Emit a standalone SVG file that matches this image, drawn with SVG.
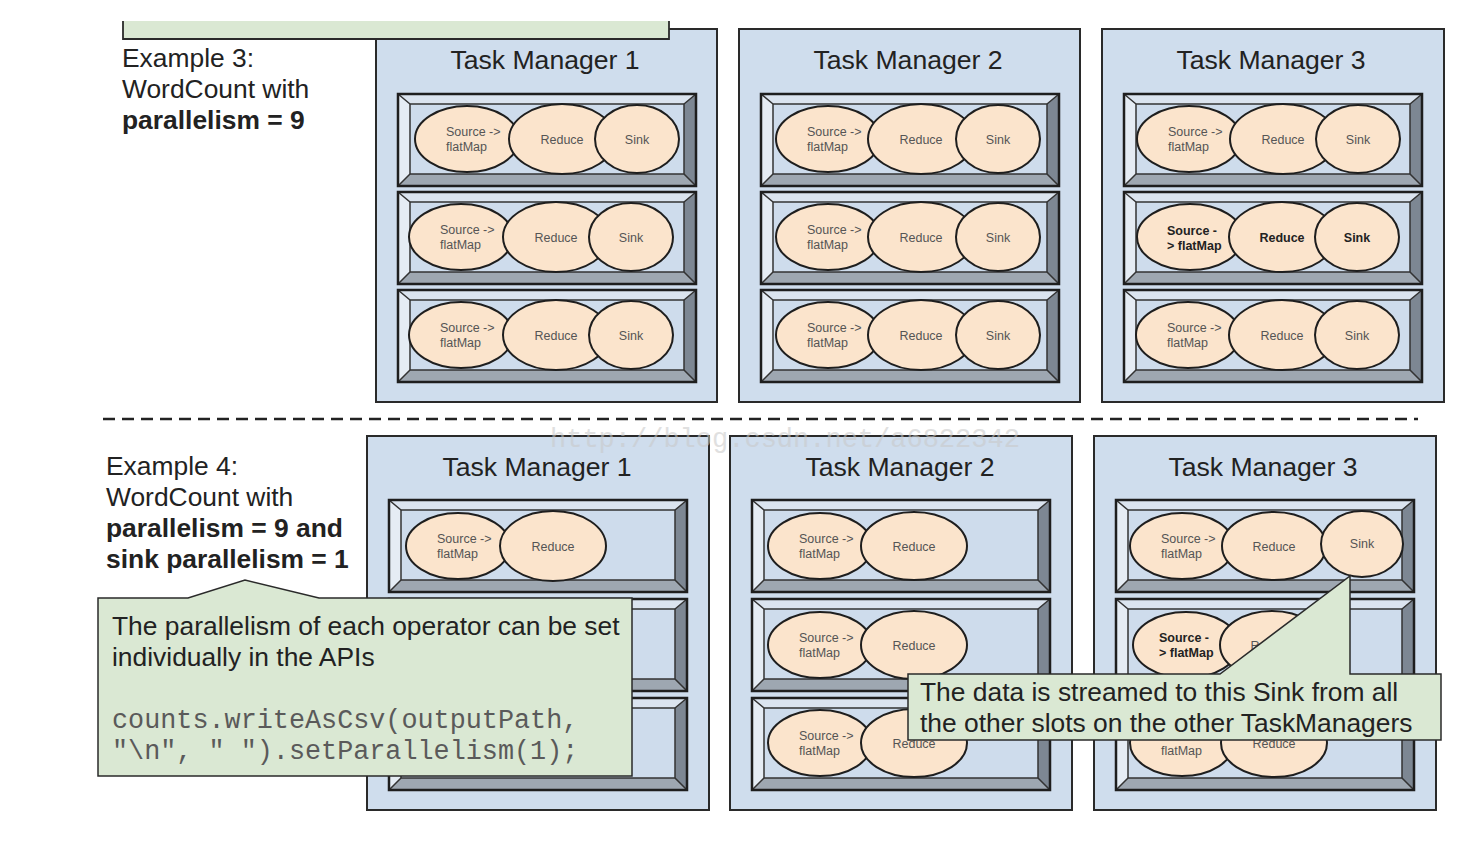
<svg xmlns="http://www.w3.org/2000/svg" xmlns:xlink="http://www.w3.org/1999/xlink" width="1480" height="850" viewBox="0 0 1480 850">
<style>
.bg{fill:#ffffff}
.tm{fill:#cfdded;stroke:#2a2a2a;stroke-width:2}
.title{font-family:"Liberation Sans",Arial,sans-serif;font-size:26.6px;fill:#222;text-anchor:middle}
.txt{font-family:"Liberation Sans",Arial,sans-serif;font-size:26.4px;fill:#222}
.b{font-weight:bold}
.code{font-family:"Liberation Mono","Courier New",monospace;font-size:26.8px;fill:#5a5a5a}
.op{fill:#fbe4cc;stroke:#1e1e1e;stroke-width:2}
.lbl{font-family:"Liberation Sans",Arial,sans-serif;font-size:12.5px;fill:#555}
.lblb{font-family:"Liberation Sans",Arial,sans-serif;font-size:12.5px;fill:#222;font-weight:bold}
.mid{text-anchor:middle}
.callout{fill:#dae8d3;stroke:#2a2a2a;stroke-width:1.5}
.dash{fill:none;stroke:#222;stroke-width:2.6;stroke-dasharray:12 7}
.wm{font-family:"Liberation Mono","Courier New",monospace;font-size:27px;fill:#c8c8c8;opacity:0.55}
</style>
<defs>
<g id="frame">
<polygon points="0,0 298,0 286,10 12,10" fill="#dbe4ef"/>
<polygon points="0,0 12,10 12,80 0,92" fill="#e5ecf4"/>
<polygon points="298,0 298,92 286,80 286,10" fill="#7d8793"/>
<polygon points="0,92 12,80 286,80 298,92" fill="#9ea7b1"/>
<rect x="12" y="10" width="274" height="70" fill="#cedcec" stroke="#333" stroke-width="1.5"/>
<path d="M0,0 L12,10 M298,0 L286,10 M0,92 L12,80 M298,92 L286,80" stroke="#333" stroke-width="1.5" fill="none"/>
<rect x="0" y="0" width="298" height="92" fill="none" stroke="#1e1e1e" stroke-width="2.5"/>
</g>
</defs>
<rect class="bg" x="0" y="0" width="1480" height="850"/>

<!-- Top row -->
<g id="top-tm1">
<rect class="tm" x="376" y="29" width="341" height="373"/>
<text class="title" x="545" y="69">Task Manager 1</text>
<g id="top-tm1-slot1" transform="translate(398,94)">
<use href="#frame"/>
<ellipse class="op" cx="69" cy="45" rx="52" ry="33"/>
<text class="lbl" x="48" y="42">Source -&gt;</text><text class="lbl" x="48" y="57">flatMap</text>
<ellipse class="op" cx="164" cy="45" rx="53" ry="35"/>
<text class="lbl mid" x="164" y="50">Reduce</text>
<ellipse class="op" cx="239" cy="45" rx="42" ry="34"/>
<text class="lbl mid" x="239" y="50">Sink</text>
</g>
<g id="top-tm1-slot2" transform="translate(398,192)">
<use href="#frame"/>
<ellipse class="op" cx="63" cy="45" rx="52" ry="33"/>
<text class="lbl" x="42" y="42">Source -&gt;</text><text class="lbl" x="42" y="57">flatMap</text>
<ellipse class="op" cx="158" cy="45" rx="53" ry="35"/>
<text class="lbl mid" x="158" y="50">Reduce</text>
<ellipse class="op" cx="233" cy="45" rx="42" ry="34"/>
<text class="lbl mid" x="233" y="50">Sink</text>
</g>
<g id="top-tm1-slot3" transform="translate(398,290)">
<use href="#frame"/>
<ellipse class="op" cx="63" cy="45" rx="52" ry="33"/>
<text class="lbl" x="42" y="42">Source -&gt;</text><text class="lbl" x="42" y="57">flatMap</text>
<ellipse class="op" cx="158" cy="45" rx="53" ry="35"/>
<text class="lbl mid" x="158" y="50">Reduce</text>
<ellipse class="op" cx="233" cy="45" rx="42" ry="34"/>
<text class="lbl mid" x="233" y="50">Sink</text>
</g>
</g>

<g id="top-tm2">
<rect class="tm" x="739" y="29" width="341" height="373"/>
<text class="title" x="908" y="69">Task Manager 2</text>
<g id="top-tm2-slot1" transform="translate(761,94)">
<use href="#frame"/>
<ellipse class="op" cx="67" cy="45" rx="52" ry="33"/>
<text class="lbl" x="46" y="42">Source -&gt;</text><text class="lbl" x="46" y="57">flatMap</text>
<ellipse class="op" cx="160" cy="45" rx="53" ry="35"/>
<text class="lbl mid" x="160" y="50">Reduce</text>
<ellipse class="op" cx="237" cy="45" rx="42" ry="34"/>
<text class="lbl mid" x="237" y="50">Sink</text>
</g>
<g id="top-tm2-slot2" transform="translate(761,192)">
<use href="#frame"/>
<ellipse class="op" cx="67" cy="45" rx="52" ry="33"/>
<text class="lbl" x="46" y="42">Source -&gt;</text><text class="lbl" x="46" y="57">flatMap</text>
<ellipse class="op" cx="160" cy="45" rx="53" ry="35"/>
<text class="lbl mid" x="160" y="50">Reduce</text>
<ellipse class="op" cx="237" cy="45" rx="42" ry="34"/>
<text class="lbl mid" x="237" y="50">Sink</text>
</g>
<g id="top-tm2-slot3" transform="translate(761,290)">
<use href="#frame"/>
<ellipse class="op" cx="67" cy="45" rx="52" ry="33"/>
<text class="lbl" x="46" y="42">Source -&gt;</text><text class="lbl" x="46" y="57">flatMap</text>
<ellipse class="op" cx="160" cy="45" rx="53" ry="35"/>
<text class="lbl mid" x="160" y="50">Reduce</text>
<ellipse class="op" cx="237" cy="45" rx="42" ry="34"/>
<text class="lbl mid" x="237" y="50">Sink</text>
</g>
</g>

<g id="top-tm3">
<rect class="tm" x="1102" y="29" width="342" height="373"/>
<text class="title" x="1271" y="69">Task Manager 3</text>
<g id="top-tm3-slot1" transform="translate(1124,94)">
<use href="#frame"/>
<ellipse class="op" cx="65" cy="45" rx="52" ry="33"/>
<text class="lbl" x="44" y="42">Source -&gt;</text><text class="lbl" x="44" y="57">flatMap</text>
<ellipse class="op" cx="159" cy="45" rx="53" ry="35"/>
<text class="lbl mid" x="159" y="50">Reduce</text>
<ellipse class="op" cx="234" cy="45" rx="42" ry="34"/>
<text class="lbl mid" x="234" y="50">Sink</text>
</g>
<g id="top-tm3-slot2" transform="translate(1124,192)">
<use href="#frame"/>
<ellipse class="op" cx="66" cy="45" rx="53" ry="33"/>
<text class="lblb" x="43" y="43">Source -</text><text class="lblb" x="43" y="58">&gt; flatMap</text>
<ellipse class="op" cx="158" cy="45" rx="53" ry="35"/>
<text class="lblb mid" x="158" y="50">Reduce</text>
<ellipse class="op" cx="233" cy="45" rx="42" ry="34"/>
<text class="lblb mid" x="233" y="50">Sink</text>
</g>
<g id="top-tm3-slot3" transform="translate(1124,290)">
<use href="#frame"/>
<ellipse class="op" cx="64" cy="45" rx="52" ry="33"/>
<text class="lbl" x="43" y="42">Source -&gt;</text><text class="lbl" x="43" y="57">flatMap</text>
<ellipse class="op" cx="158" cy="45" rx="53" ry="35"/>
<text class="lbl mid" x="158" y="50">Reduce</text>
<ellipse class="op" cx="233" cy="45" rx="42" ry="34"/>
<text class="lbl mid" x="233" y="50">Sink</text>
</g>
</g>

<!-- cropped callout at top -->
<g id="top-callout">
<rect x="123" y="21" width="546" height="18" fill="#dae8d3"/>
<path d="M123,21 V39 H669 V21" fill="none" stroke="#2a2a2a" stroke-width="1.8"/>
</g>

<g id="example3-label">
<text class="txt" x="122" y="67">Example 3:</text>
<text class="txt" x="122" y="98">WordCount with</text>
<text class="txt b" x="122" y="129">parallelism = 9</text>
</g>

<g id="connectors">
<line class="dash" x1="103" y1="419" x2="1418" y2="419"/>
</g>

<!-- Bottom row -->
<g id="bot-tm1">
<rect class="tm" x="367" y="436" width="342" height="374"/>
<text class="title" x="537" y="476">Task Manager 1</text>
<g id="bot-tm1-slot1" transform="translate(389,500)">
<use href="#frame"/>
<ellipse class="op" cx="69" cy="46" rx="52" ry="33"/>
<text class="lbl" x="48" y="43">Source -&gt;</text><text class="lbl" x="48" y="58">flatMap</text>
<ellipse class="op" cx="164" cy="46" rx="53" ry="35"/>
<text class="lbl mid" x="164" y="51">Reduce</text>
</g>
<g id="bot-tm1-slot2" transform="translate(389,599)">
<use href="#frame"/>
</g>
<g id="bot-tm1-slot3" transform="translate(389,698)">
<use href="#frame"/>
</g>
</g>

<g id="bot-tm2">
<rect class="tm" x="730" y="436" width="342" height="374"/>
<text class="title" x="900" y="476">Task Manager 2</text>
<g id="bot-tm2-slot1" transform="translate(752,500)">
<use href="#frame"/>
<ellipse class="op" cx="68" cy="46" rx="52" ry="33"/>
<text class="lbl" x="47" y="43">Source -&gt;</text><text class="lbl" x="47" y="58">flatMap</text>
<ellipse class="op" cx="162" cy="46" rx="53" ry="34"/>
<text class="lbl mid" x="162" y="51">Reduce</text>
</g>
<g id="bot-tm2-slot2" transform="translate(752,599)">
<use href="#frame"/>
<ellipse class="op" cx="68" cy="46" rx="52" ry="33"/>
<text class="lbl" x="47" y="43">Source -&gt;</text><text class="lbl" x="47" y="58">flatMap</text>
<ellipse class="op" cx="162" cy="46" rx="53" ry="34"/>
<text class="lbl mid" x="162" y="51">Reduce</text>
</g>
<g id="bot-tm2-slot3" transform="translate(752,698)">
<use href="#frame"/>
<ellipse class="op" cx="68" cy="45" rx="52" ry="33"/>
<text class="lbl" x="47" y="42">Source -&gt;</text><text class="lbl" x="47" y="57">flatMap</text>
<ellipse class="op" cx="162" cy="45" rx="53" ry="34"/>
<text class="lbl mid" x="162" y="50">Reduce</text>
</g>
</g>

<g id="bot-tm3">
<rect class="tm" x="1094" y="436" width="342" height="374"/>
<text class="title" x="1263" y="476">Task Manager 3</text>
<g id="bot-tm3-slot1" transform="translate(1116,500)">
<use href="#frame"/>
<ellipse class="op" cx="66" cy="46" rx="52" ry="33"/>
<text class="lbl" x="45" y="43">Source -&gt;</text><text class="lbl" x="45" y="58">flatMap</text>
<ellipse class="op" cx="158" cy="46" rx="52" ry="34"/>
<text class="lbl mid" x="158" y="51">Reduce</text>
<ellipse class="op" cx="246" cy="44" rx="41" ry="33"/>
<text class="lbl mid" x="246" y="48">Sink</text>
</g>
<g id="bot-tm3-slot2" transform="translate(1116,599)">
<use href="#frame"/>
<ellipse class="op" cx="70" cy="46" rx="53" ry="33"/>
<text class="lblb" x="43" y="43">Source -</text><text class="lblb" x="43" y="58">&gt; flatMap</text>
<ellipse class="op" cx="156" cy="46" rx="52" ry="34"/>
<text class="lbl mid" x="156" y="51">Reduce</text>
</g>
<g id="bot-tm3-slot3" transform="translate(1116,698)">
<use href="#frame"/>
<ellipse class="op" cx="66" cy="45" rx="52" ry="33"/>
<text class="lbl" x="45" y="42">Source -&gt;</text><text class="lbl" x="45" y="57">flatMap</text>
<ellipse class="op" cx="158" cy="45" rx="53" ry="34"/>
<text class="lbl mid" x="158" y="50">Reduce</text>
</g>
</g>

<g id="example4-label">
<text class="txt" x="106" y="475">Example 4:</text>
<text class="txt" x="106" y="506">WordCount with</text>
<text class="txt b" x="106" y="537">parallelism = 9 and</text>
<text class="txt b" x="106" y="568">sink parallelism = 1</text>
</g>

<g id="callout-left">
<path class="callout" d="M98,598 H188 L245,580 L319,598 H632 V776 H98 Z"/>
<text class="txt" x="112" y="635">The parallelism of each operator can be set</text>
<text class="txt" x="112" y="666">individually in the APIs</text>
<text class="code" x="112" y="728">counts.writeAsCsv(outputPath,</text>
<text class="code" x="112" y="759">"\n", " ").setParallelism(1);</text>
</g>

<g id="callout-right">
<path class="callout" d="M908,674 H1220 L1350,576 V674 H1441 V740 H908 Z"/>
<text class="txt" x="920" y="701">The data is streamed to this Sink from all</text>
<text class="txt" x="920" y="732">the other slots on the other TaskManagers</text>
</g>

<text class="wm" x="550" y="447">http://blog.csdn.net/a6822342</text>
</svg>
